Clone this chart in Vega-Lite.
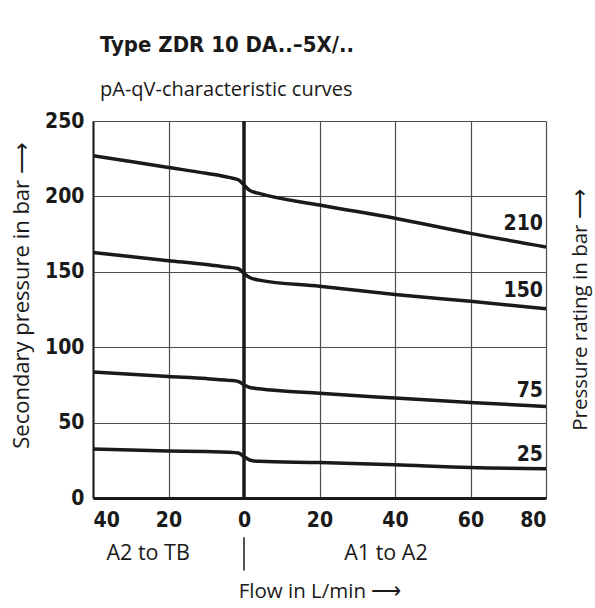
{
  "$schema": "https://vega.github.io/schema/vega-lite/v6.json",
  "autosize": "none",
  "width": 453,
  "height": 377,
  "padding": {"left": 93, "top": 121, "right": 49, "bottom": 110},
  "background": "white",
  "title": {
    "text": "Type ZDR 10 DA..–5X/..",
    "subtitle": "pA-qV-characteristic curves",
    "anchor": "start",
    "frame": "group",
    "dx": 7,
    "offset": 9,
    "font": "Liberation Sans Narrow, DejaVu Sans Condensed, sans-serif",
    "fontSize": 22,
    "fontWeight": "bold",
    "color": "#1a1a1a",
    "subtitleFont": "Open Sans, sans-serif",
    "subtitleFontSize": 20,
    "subtitleColor": "#1a1a1a",
    "subtitlePadding": 23
  },
  "config": {
    "view": {"stroke": null},
    "axis": {
      "labelFont": "Liberation Sans Narrow, DejaVu Sans Condensed, sans-serif",
      "labelFontWeight": "bold",
      "labelFontSize": 21,
      "labelColor": "#1a1a1a",
      "titleFont": "Open Sans, sans-serif",
      "titleFontWeight": "normal",
      "titleFontSize": 20.5,
      "titleColor": "#1a1a1a",
      "gridColor": "#4d4d4d",
      "gridWidth": 1.2,
      "gridOpacity": 1,
      "ticks": false,
      "domainColor": "#1a1a1a"
    }
  },
  "datasets": {
    "curves": [
      {"rating": "210", "flow": -40, "pressure": 227},
      {"rating": "210", "flow": -20, "pressure": 219.2},
      {"rating": "210", "flow": -10, "pressure": 215.3},
      {"rating": "210", "flow": -4, "pressure": 212.6},
      {"rating": "210", "flow": -1.5, "pressure": 211},
      {"rating": "210", "flow": 0, "pressure": 207.5},
      {"rating": "210", "flow": 1.5, "pressure": 204},
      {"rating": "210", "flow": 4, "pressure": 202},
      {"rating": "210", "flow": 20, "pressure": 194.3},
      {"rating": "210", "flow": 40, "pressure": 185.5},
      {"rating": "210", "flow": 60, "pressure": 175.5},
      {"rating": "210", "flow": 80, "pressure": 166.5},
      {"rating": "150", "flow": -40, "pressure": 162.8},
      {"rating": "150", "flow": -20, "pressure": 157.4},
      {"rating": "150", "flow": -10, "pressure": 154.8},
      {"rating": "150", "flow": -4, "pressure": 153},
      {"rating": "150", "flow": -1.5, "pressure": 152},
      {"rating": "150", "flow": 0, "pressure": 149},
      {"rating": "150", "flow": 1.5, "pressure": 146.2},
      {"rating": "150", "flow": 4, "pressure": 144.5},
      {"rating": "150", "flow": 20, "pressure": 140.4},
      {"rating": "150", "flow": 40, "pressure": 135},
      {"rating": "150", "flow": 60, "pressure": 130.4},
      {"rating": "150", "flow": 80, "pressure": 125.5},
      {"rating": "75", "flow": -40, "pressure": 83.5},
      {"rating": "75", "flow": -20, "pressure": 80.5},
      {"rating": "75", "flow": -10, "pressure": 79.2},
      {"rating": "75", "flow": -4, "pressure": 78},
      {"rating": "75", "flow": -1.5, "pressure": 77.3},
      {"rating": "75", "flow": 0, "pressure": 75},
      {"rating": "75", "flow": 1.5, "pressure": 73.3},
      {"rating": "75", "flow": 4, "pressure": 72.5},
      {"rating": "75", "flow": 20, "pressure": 69.4},
      {"rating": "75", "flow": 40, "pressure": 66.3},
      {"rating": "75", "flow": 60, "pressure": 63.4},
      {"rating": "75", "flow": 80, "pressure": 60.6},
      {"rating": "25", "flow": -40, "pressure": 32.5},
      {"rating": "25", "flow": -20, "pressure": 31.2},
      {"rating": "25", "flow": -10, "pressure": 30.8},
      {"rating": "25", "flow": -4, "pressure": 30.4},
      {"rating": "25", "flow": -1.5, "pressure": 29.8},
      {"rating": "25", "flow": 0, "pressure": 27.4},
      {"rating": "25", "flow": 1.5, "pressure": 25.2},
      {"rating": "25", "flow": 4, "pressure": 24.3},
      {"rating": "25", "flow": 20, "pressure": 23.5},
      {"rating": "25", "flow": 40, "pressure": 22},
      {"rating": "25", "flow": 60, "pressure": 20.2},
      {"rating": "25", "flow": 80, "pressure": 19.4}
    ],
    "labels": [
      {"rating": "210", "flow": 79.2, "pressure": 182},
      {"rating": "150", "flow": 79.2, "pressure": 137.3},
      {"rating": "75", "flow": 79.2, "pressure": 71},
      {"rating": "25", "flow": 79.2, "pressure": 28.5}
    ],
    "directions": [
      {"direction": "A2 to  TB", "flow": -25.4},
      {"direction": "A1 to  A2", "flow": 37.6}
    ]
  },
  "resolve": {"axis": {"x": "independent", "y": "independent"}},
  "layer": [
    {
      "data": {"name": "curves"},
      "mark": {"type": "line", "interpolate": "monotone", "stroke": "#1a1a1a", "strokeWidth": 3.5, "clip": true},
      "encoding": {
        "x": {
          "field": "flow", "type": "quantitative",
          "scale": {"domain": [-40, 80], "nice": false, "zero": false},
          "axis": {
            "values": [-40, -20, 0, 20, 40, 60, 80],
            "labelExpr": "abs(datum.value)",
            "labelPadding": 11,
            "domainWidth": 3,
            "grid": true,
            "title": "Flow in L/min ⟶",
            "titlePadding": 51
          }
        },
        "y": {
          "field": "pressure", "type": "quantitative",
          "scale": {"domain": [0, 250], "nice": false},
          "axis": {
            "values": [0, 50, 100, 150, 200, 250],
            "labelPadding": 9,
            "domainWidth": 2,
            "grid": true,
            "title": "Secondary pressure in bar ⟶",
            "titleFontSize": 22,
            "titleY": 174,
            "titleAlign": "center",
            "titlePadding": 11
          }
        },
        "detail": {"field": "rating"}
      }
    },
    {
      "data": {"values": [{"flow": 0}]},
      "mark": {"type": "rule", "stroke": "#1a1a1a", "strokeWidth": 3.5},
      "encoding": {
        "x": {"field": "flow", "type": "quantitative", "axis": null},
        "y": {"datum": 0, "axis": null},
        "y2": {"datum": 250}
      }
    },
    {
      "data": {"values": [{"flow": 0}]},
      "mark": {"type": "rule", "stroke": "#1a1a1a", "strokeWidth": 1.5, "clip": false},
      "encoding": {
        "x": {"field": "flow", "type": "quantitative", "axis": null},
        "y": {"datum": -26, "axis": null},
        "y2": {"datum": -48}
      }
    },
    {
      "data": {"name": "directions"},
      "mark": {"type": "text", "font": "Open Sans, sans-serif", "fontSize": 21.5, "color": "#1a1a1a", "baseline": "middle", "align": "center", "clip": false},
      "encoding": {
        "x": {"field": "flow", "type": "quantitative", "axis": null},
        "y": {"datum": -37, "axis": null},
        "text": {"field": "direction"}
      }
    },
    {
      "data": {"name": "labels"},
      "mark": {"type": "text", "font": "Liberation Sans Narrow, DejaVu Sans Condensed, sans-serif", "fontWeight": "bold", "fontSize": 21, "color": "#1a1a1a", "baseline": "middle", "align": "right"},
      "encoding": {
        "x": {"field": "flow", "type": "quantitative", "axis": null},
        "y": {
          "field": "pressure", "type": "quantitative",
          "axis": {"orient": "right", "labels": false, "domain": false, "grid": false, "title": "Pressure rating in bar ⟶", "titleAngle": -90, "titlePadding": 44}
        },
        "text": {"field": "rating"}
      }
    }
  ]
}
